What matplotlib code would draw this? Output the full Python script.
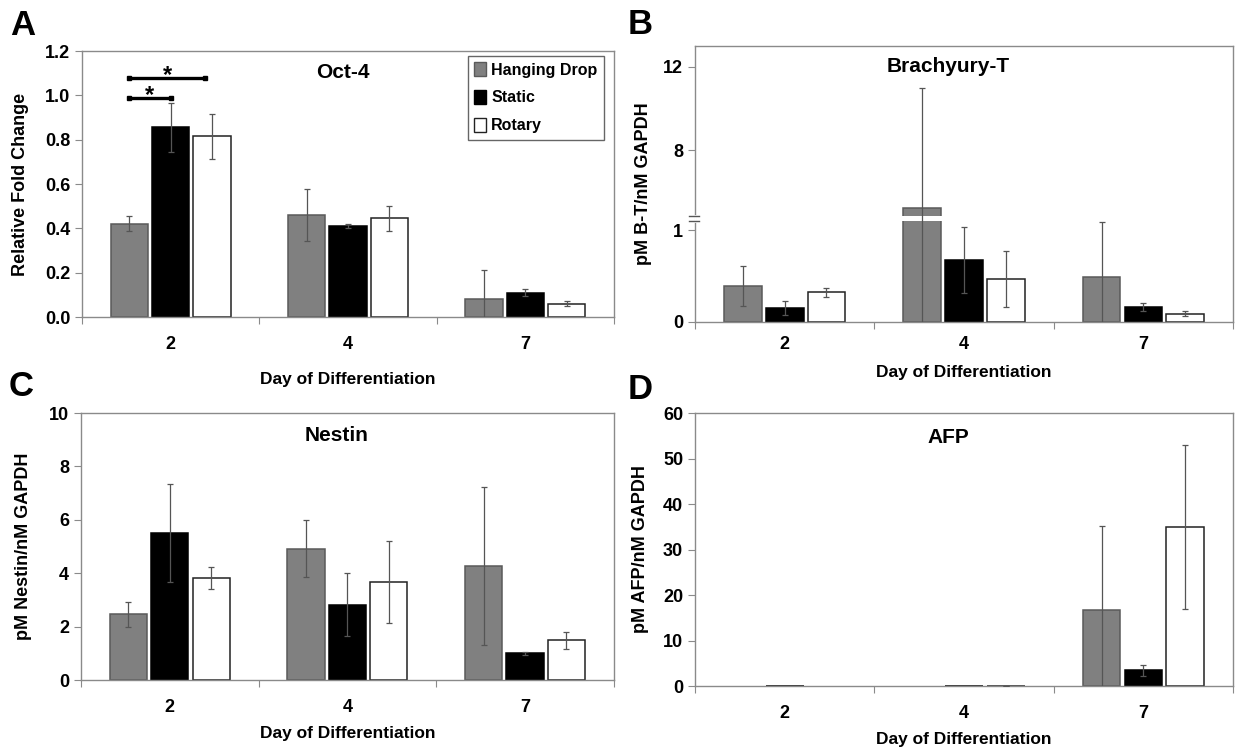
import numpy as np
import matplotlib.pyplot as plt
from matplotlib.patches import Patch
from matplotlib.transforms import blended_transform_factory

plt.rcParams['font.family'] = ['Liberation Sans Narrow', 'Liberation Sans', 'DejaVu Sans']
plt.rcParams['font.weight'] = 'bold'

# data: one row per culture method, one column per day
days = ['2', '4', '7']
methods = ['Hanging Drop', 'Static', 'Rotary']

oct4 = [[0.42, 0.46, 0.08], [0.855, 0.41, 0.11], [0.815, 0.445, 0.06]]
oct4_err = [[0.034, 0.118, 0.13], [0.11, 0.01, 0.017], [0.10, 0.057, 0.011]]

bt = [[0.393, 5.23, 0.491], [0.156, 0.673, 0.164], [0.324, 0.469, 0.091]]
bt_err = [[0.214, 5.73, 0.593], [0.077, 0.36, 0.044], [0.05, 0.302, 0.03]]

nestin = [[2.46, 4.91, 4.28], [5.52, 2.82, 1.0], [3.82, 3.67, 1.49]]
nestin_err = [[0.46, 1.07, 2.95], [1.83, 1.17, 0.05], [0.41, 1.52, 0.31]]

afp = [[0.0, 0.0, 16.8], [0.1, 0.1, 3.45], [0.0, 0.05, 34.9]]
afp_err = [[0.0, 0.0, 18.3], [0.0, 0.0, 1.18], [0.0, 0.05, 18.0]]

# significance brackets in panel A: (from method, to method, height)
sig_brackets = [(0, 2, 1.079), (0, 1, 0.986)]

face = ['#808080', '#000000', '#ffffff']
edge = ['#5a5a5a', '#000000', '#222222']
spine_c = '#8a8a8a'
W = 0.21
STEP = 0.233


def draw_panel(ax, vals, errs, title, ylabel, title_xy, ylab_x, xlab_y, tpad=14):
    x = np.arange(len(days))
    for i in range(len(methods)):
        xi = x + (i - 1) * STEP
        v = np.array(vals[i])
        e = np.array(errs[i])
        keep = v > 0
        ax.bar(xi[keep], v[keep], W, color=face[i], edgecolor=edge[i], lw=1.1, zorder=2)
        ok = e > 0
        ax.errorbar(xi[ok], v[ok], yerr=e[ok], fmt='none',
                    ecolor='#555555', elinewidth=0.9, capsize=2, capthick=0.9, zorder=3)
    ax.set_xlim(-0.5, 2.5)
    ax.set_xticks([-0.5, 0.5, 1.5, 2.5])
    ax.set_xticklabels([])
    ax.set_xticks(x, minor=True)
    ax.set_xticklabels(days, minor=True, fontsize=13, fontweight='bold')
    ax.tick_params(axis='x', which='major', length=5, direction='out', color=spine_c)
    ax.tick_params(axis='x', which='minor', length=0, pad=tpad)
    ax.tick_params(axis='y', length=5, direction='out', color=spine_c, labelsize=13)
    for s in ax.spines.values():
        s.set_color(spine_c)
        s.set_linewidth(1)
    ax.text(title_xy[0], title_xy[1], title, transform=ax.transAxes, ha='center',
            va='center', fontsize=15, fontweight='bold')
    ax.set_ylabel(ylabel, fontsize=13, fontweight='bold')
    ax.yaxis.set_label_coords(ylab_x, 0.5)
    ax.set_xlabel('Day of Differentiation', fontsize=12.5, fontweight='bold')
    ax.xaxis.set_label_coords(0.5, xlab_y)


fig = plt.figure(figsize=(12.36, 7.5), dpi=100)
axA = fig.add_axes([0.0663, 0.5773, 0.4304, 0.3547])
axB = fig.add_axes([0.5623, 0.5707, 0.4353, 0.3680])
axC = fig.add_axes([0.0655, 0.0933, 0.4312, 0.3560])
axD = fig.add_axes([0.5623, 0.0853, 0.4353, 0.3640])

# panel A
draw_panel(axA, oct4, oct4_err, 'Oct-4', 'Relative Fold Change', (0.49, 0.92), -0.1, -0.205)
axA.set_ylim(0, 1.2)
axA.set_yticks(np.arange(0, 1.21, 0.2))
axA.set_yticklabels(['%.1f' % v for v in np.arange(0, 1.21, 0.2)])
for a, b, h in sig_brackets:
    xa, xb = (a - 1) * STEP, (b - 1) * STEP
    if b == 2:
        xb -= 0.04
    axA.plot([xa, xb], [h, h], color='k', lw=2.4, solid_capstyle='butt', zorder=4)
    axA.plot([xa, xb], [h, h], ls='none', marker='s', ms=3.5, color='k', zorder=4)
    axA.text((xa + xb) / 2, h + 0.012, '*', ha='center', va='center',
             fontsize=17, fontweight='bold')
handles = [Patch(facecolor=face[i], edgecolor=edge[i], label=methods[i]) for i in range(3)]
leg = axA.legend(handles=handles, loc='upper right', bbox_to_anchor=(0.981, 0.981),
                 fancybox=False, edgecolor='#666666', framealpha=1, fontsize=11.5,
                 handlelength=0.75, handleheight=0.9, handletextpad=0.3,
                 labelspacing=0.8, borderpad=0.4, borderaxespad=0)
leg.get_frame().set_linewidth(1)

# panel B, broken y axis
lo, hi = 1.10, 4.83
g_gap, g_up = 0.0146, 0.2266


def fwd(y):
    y = np.asarray(y, float)
    return np.where(y <= lo, y, np.where(y <= hi, lo + (y - lo) * g_gap,
                                         lo + (hi - lo) * g_gap + (y - hi) * g_up))


def inv(u):
    u = np.asarray(u, float)
    top = lo + (hi - lo) * g_gap
    return np.where(u <= lo, u, np.where(u <= top, lo + (u - lo) / g_gap,
                                         hi + (u - top) / g_up))


axB.set_yscale('function', functions=(fwd, inv))
draw_panel(axB, bt, bt_err, 'Brachyury-T', 'pM B-T/nM GAPDH', (0.47, 0.924), -0.08, -0.155, tpad=10)
axB.set_ylim(0, 13)
axB.set_yticks([0, 1, 8, 12])
axB.set_yticklabels(['0', '1', '8', '12'])
axB.yaxis.set_minor_locator(plt.NullLocator())
axB.axhspan(lo, hi, color='white', lw=0, zorder=2.2)
trB = blended_transform_factory(axB.transAxes, axB.transData)
axB.plot([0, 0], [lo, hi], color='white', lw=2, transform=trB, clip_on=False, zorder=5)
for yb in (lo, hi):
    axB.plot([-0.012, 0.008], [yb, yb], color='#555555', lw=1, transform=trB,
             clip_on=False, zorder=6)

# panel C
draw_panel(axC, nestin, nestin_err, 'Nestin', 'pM Nestin/nM GAPDH', (0.48, 0.914), -0.092, -0.172)
axC.set_ylim(0, 10)
axC.set_yticks(range(0, 11, 2))

# panel D
draw_panel(axD, afp, afp_err, 'AFP', 'pM AFP/nM GAPDH', (0.47, 0.91), -0.086, -0.168)
axD.set_ylim(0, 60)
axD.set_yticks(range(0, 61, 10))

for lab, xx, yy in [('A', 0.008, 0.988), ('B', 0.508, 0.990), ('C', 0.007, 0.507), ('D', 0.508, 0.503)]:
    fig.text(xx, yy, lab, fontsize=25, fontweight='bold', va='top', ha='left')

fig.savefig('out.png', dpi=100)
